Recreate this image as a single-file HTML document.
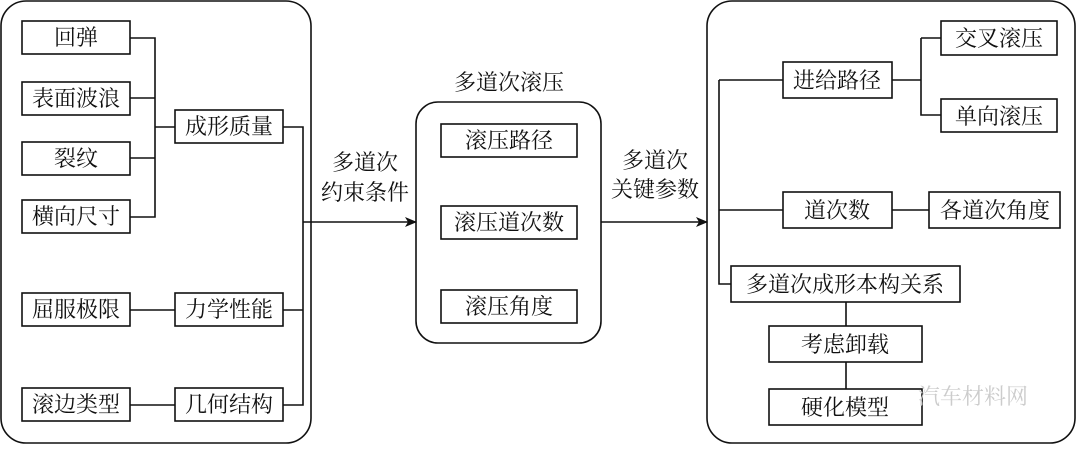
<!DOCTYPE html>
<html><head><meta charset="utf-8"><style>
html,body{margin:0;padding:0;background:#fff;}
svg text{font-family:"Liberation Serif","Noto Serif CJK SC","Noto Sans CJK SC",serif;font-size:22px;fill:#111;}
</style></head><body>
<svg width="1080" height="445" viewBox="0 0 1080 445" xmlns="http://www.w3.org/2000/svg">
<defs><marker id="a" markerWidth="12" markerHeight="10" refX="11" refY="5" orient="auto" markerUnits="userSpaceOnUse"><path d="M0,0 L12,5 L0,10 L3,5 Z" fill="#111"/></marker></defs>
<g fill="none" stroke="#111" stroke-width="1.6">
<rect x="1" y="1" width="310" height="442" rx="25"/>
<rect x="416" y="102" width="185" height="241" rx="22"/>
<rect x="707" y="1" width="368" height="442" rx="25"/>
<!-- left boxes -->
<rect x="22" y="21" width="108" height="33"/>
<rect x="22" y="82" width="108" height="33"/>
<rect x="22" y="142" width="108" height="33"/>
<rect x="22" y="200" width="108" height="33"/>
<rect x="22" y="293" width="108" height="33"/>
<rect x="22" y="388" width="108" height="33"/>
<rect x="175" y="110" width="108" height="33"/>
<rect x="175" y="293" width="108" height="33"/>
<rect x="175" y="388" width="108" height="33"/>
<path d="M130,38H155V217H130M130,98H155M130,158H155M155,127H175M130,310H175M130,405H175M283,127H303V405H283M283,310H303"/>
<path d="M303,222H416" marker-end="url(#a)"/>
<!-- middle -->
<rect x="441" y="124" width="136" height="33"/>
<rect x="441" y="206" width="136" height="33"/>
<rect x="441" y="290" width="136" height="33"/>
<path d="M601,222H707" marker-end="url(#a)"/>
<!-- right -->
<rect x="941" y="21" width="116" height="34"/>
<rect x="941" y="99" width="116" height="33"/>
<rect x="783" y="62" width="109" height="36"/>
<rect x="783" y="192" width="109" height="36"/>
<rect x="929" y="192" width="131" height="36"/>
<rect x="731" y="266" width="229" height="36"/>
<rect x="769" y="326" width="153" height="36"/>
<rect x="769" y="389" width="153" height="36"/>
<path d="M892,80H921V115H941M921,38H941M921,38V80M719,80H783M719,80V284H731M719,210H783M892,210H929M846,302V326M846,362V389"/>
</g>
<g text-anchor="middle">
<text x="76" y="45">回弹</text>
<text x="76" y="106">表面波浪</text>
<text x="76" y="166">裂纹</text>
<text x="76" y="224">横向尺寸</text>
<text x="76" y="317">屈服极限</text>
<text x="76" y="412">滚边类型</text>
<text x="229" y="134">成形质量</text>
<text x="229" y="317">力学性能</text>
<text x="229" y="412">几何结构</text>
<text x="365" y="170">多道次</text>
<text x="365" y="200">约束条件</text>
<text x="509" y="90">多道次滚压</text>
<text x="509" y="148">滚压路径</text>
<text x="509" y="230">滚压道次数</text>
<text x="509" y="314">滚压角度</text>
<text x="655" y="168">多道次</text>
<text x="655" y="197">关键参数</text>
<text x="999" y="46">交叉滚压</text>
<text x="999" y="124">单向滚压</text>
<text x="837" y="88">进给路径</text>
<text x="837" y="218">道次数</text>
<text x="995" y="218">各道次角度</text>
<text x="845" y="292">多道次成形本构关系</text>
<text x="845" y="352">考虑卸载</text>
<text x="845" y="415">硬化模型</text>
</g>
<text x="918" y="404" style="fill:#ccc;font-size:22px">汽车材料网</text>
</svg>
</body></html>
